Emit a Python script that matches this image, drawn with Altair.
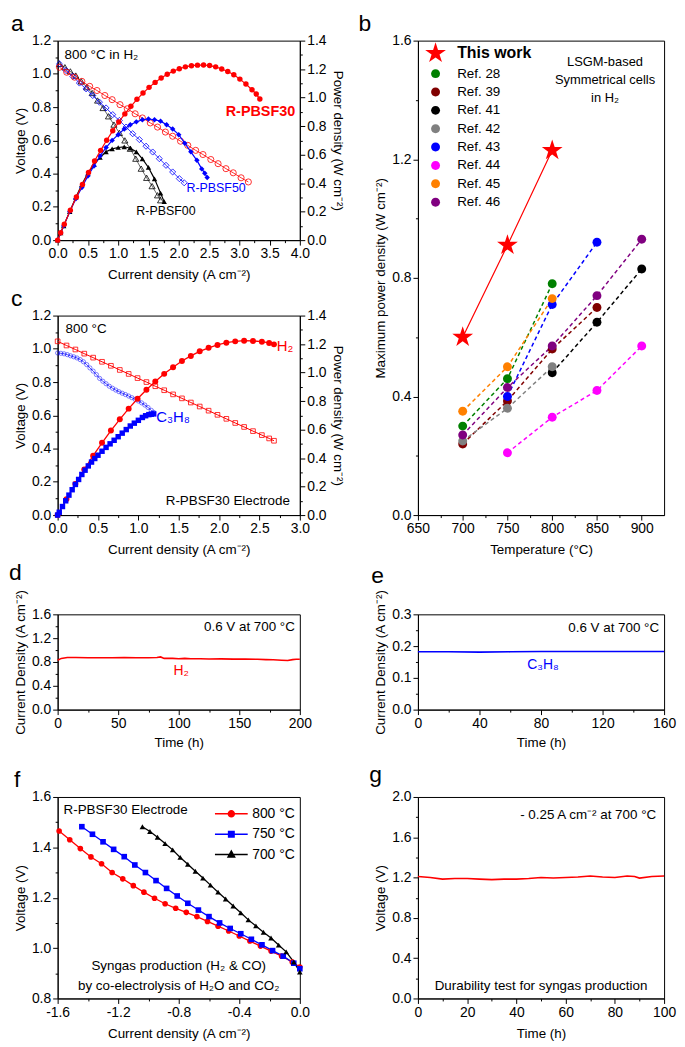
import altair as alt
import pandas as pd

FONT = "Liberation Sans"
RED, BLUE, BLACK = "#ff0000", "#0000ff", "#000000"

# ---------------- panel a : I-V and I-P curves, 800 C in H2 ----------------
a30_v_i = [0.03,0.15,0.28,0.40,0.53,0.65,0.78,0.90,1.03,1.15,1.28,1.40,1.53,1.65,1.78,1.90,2.03,2.15,2.28,2.40,2.53,2.65,2.78,2.90,3.03,3.15]
a30_v = [1.04,1.01,0.98,0.955,0.925,0.90,0.87,0.845,0.815,0.79,0.76,0.735,0.705,0.68,0.65,0.625,0.595,0.57,0.54,0.515,0.485,0.46,0.43,0.405,0.375,0.35]
a30_p_i = [0.0,0.05,0.11,0.21,0.31,0.41,0.51,0.61,0.71,0.81,0.91,1.01,1.11,1.21,1.31,1.41,1.51,1.61,1.71,1.81,1.91,2.01,2.11,2.21,2.31,2.41,2.51,2.61,2.71,2.81,2.91,3.01,3.11,3.21,3.28,3.34]
a30_p = [0.0,0.052,0.112,0.21,0.303,0.391,0.475,0.555,0.63,0.701,0.767,0.829,0.886,0.939,0.988,1.032,1.072,1.107,1.138,1.164,1.186,1.203,1.216,1.224,1.228,1.229,1.225,1.216,1.201,1.183,1.16,1.13,1.095,1.055,1.025,0.99]
a50_v_i = [0.03,0.14,0.25,0.36,0.47,0.58,0.69,0.80,0.91,1.02,1.13,1.24,1.35,1.46,1.57,1.68,1.79,1.90,2.01,2.09]
a50_v = [1.06,1.02,0.985,0.945,0.91,0.87,0.83,0.795,0.755,0.72,0.68,0.64,0.605,0.565,0.53,0.49,0.45,0.41,0.37,0.345]
a50_p_i = [0.0,0.05,0.10,0.20,0.30,0.40,0.50,0.60,0.70,0.80,0.90,1.00,1.10,1.20,1.30,1.40,1.50,1.60,1.70,1.80,1.90,2.00,2.10,2.20,2.30,2.38,2.43,2.47]
a50_p = [0.0,0.05,0.10,0.20,0.29,0.37,0.45,0.52,0.59,0.65,0.70,0.74,0.78,0.81,0.83,0.845,0.85,0.845,0.835,0.81,0.78,0.74,0.68,0.62,0.56,0.50,0.47,0.44]
a00_v_i = [0.03,0.12,0.21,0.30,0.39,0.48,0.57,0.66,0.75,0.84,0.93,1.02,1.11,1.20,1.29,1.38,1.47,1.56,1.65,1.70]
a00_v = [1.06,1.04,1.015,0.99,0.955,0.92,0.885,0.84,0.795,0.745,0.695,0.645,0.60,0.55,0.49,0.43,0.375,0.325,0.27,0.24]
a00_p_i = [0.0,0.05,0.10,0.20,0.30,0.40,0.50,0.60,0.70,0.80,0.90,1.00,1.10,1.20,1.30,1.40,1.50,1.60,1.70,1.76]
a00_p = [0.0,0.05,0.10,0.20,0.30,0.39,0.47,0.53,0.58,0.62,0.64,0.65,0.655,0.645,0.62,0.57,0.51,0.43,0.33,0.27]

# ---------------- panel b : max power density vs temperature ----------------
b_series = ["This work", "Ref. 28", "Ref. 39", "Ref. 41", "Ref. 42", "Ref. 43", "Ref. 44", "Ref. 45", "Ref. 46"]
b_colors = ["#ff0000", "#008000", "#800000", "#000000", "#808080", "#0000ff", "#ff00ff", "#ff8000", "#800080"]
b_temps = [
    [700, 750, 800],
    [700, 750, 800],
    [700, 750, 800, 850],
    [800, 850, 900],
    [700, 750, 800],
    [750, 800, 850],
    [750, 800, 850, 900],
    [700, 750, 800],
    [700, 750, 800, 850, 900],
]
b_pmax = [
    [0.60, 0.91, 1.23],
    [0.30, 0.46, 0.78],
    [0.24, 0.385, 0.56, 0.70],
    [0.48, 0.65, 0.83],
    [0.25, 0.36, 0.50],
    [0.40, 0.71, 0.92],
    [0.21, 0.33, 0.42, 0.57],
    [0.35, 0.50, 0.73],
    [0.27, 0.43, 0.57, 0.74, 0.93],
]

# ---------------- panel c : H2 vs C3H8, 800 C ----------------
c_h2_i = [0.0,0.11,0.22,0.33,0.44,0.55,0.66,0.77,0.88,0.99,1.10,1.21,1.32,1.43,1.54,1.65,1.76,1.87,1.98,2.09,2.20,2.31,2.42,2.53,2.62,2.68]
c_h2_v = [1.045,1.02,0.996,0.971,0.947,0.922,0.898,0.873,0.849,0.824,0.80,0.775,0.751,0.726,0.702,0.677,0.653,0.628,0.603,0.579,0.554,0.53,0.505,0.481,0.461,0.447]
c_h2_p = [0.0,0.112,0.219,0.32,0.417,0.507,0.593,0.672,0.747,0.816,0.88,0.938,0.991,1.038,1.081,1.117,1.149,1.174,1.194,1.21,1.219,1.224,1.222,1.217,1.208,1.198]
c_c3_v_i = [0.0,0.04,0.08,0.12,0.16,0.20,0.24,0.28,0.32,0.36,0.40,0.44,0.48,0.52,0.56,0.60,0.64,0.68,0.72,0.76,0.80,0.84,0.88,0.92,0.96,1.00,1.04,1.08,1.12,1.16,1.19]
c_c3_v = [0.975,0.973,0.97,0.965,0.958,0.952,0.945,0.935,0.922,0.905,0.885,0.866,0.845,0.822,0.805,0.79,0.775,0.763,0.752,0.742,0.733,0.725,0.716,0.706,0.696,0.686,0.675,0.662,0.647,0.63,0.618]
c_c3_p_i = [0.0,0.02,0.06,0.10,0.14,0.18,0.22,0.26,0.30,0.34,0.38,0.42,0.46,0.50,0.55,0.60,0.65,0.70,0.75,0.80,0.85,0.90,0.95,1.00,1.05,1.09,1.13,1.16,1.19]
c_c3_p = [0.0,0.02,0.06,0.10,0.14,0.178,0.215,0.25,0.285,0.315,0.345,0.372,0.397,0.42,0.448,0.475,0.50,0.525,0.55,0.575,0.60,0.625,0.645,0.665,0.685,0.697,0.705,0.708,0.71]

# ---------------- panel d / e : stability at 0.6 V, 700 C ----------------
d_t = [0,3,8,15,25,35,45,55,65,75,82,85,88,95,100,105,110,118,125,135,145,155,165,172,178,185,190,194,197,200]
d_j = [0.83,0.86,0.875,0.875,0.872,0.87,0.872,0.875,0.87,0.87,0.875,0.885,0.86,0.86,0.855,0.86,0.855,0.855,0.85,0.852,0.848,0.85,0.845,0.84,0.838,0.83,0.825,0.84,0.845,0.845]
e_t = [0,20,40,60,80,100,120,140,160]
e_j = [0.182,0.182,0.181,0.182,0.183,0.183,0.183,0.183,0.183]

# ---------------- panel f : co-electrolysis I-V ----------------
f_temps = ["800 °C", "750 °C", "700 °C"]
f_colors = [RED, BLUE, BLACK]
f_shapes = ["circle", "square", "triangle-up"]
f800_i = [-1.59,-1.52,-1.45,-1.38,-1.31,-1.24,-1.17,-1.10,-1.03,-0.96,-0.89,-0.82,-0.75,-0.68,-0.61,-0.54,-0.47,-0.40,-0.33,-0.26,-0.19,-0.12,-0.05,0.0]
f800_v = [1.465,1.43,1.395,1.362,1.335,1.30,1.275,1.248,1.222,1.198,1.176,1.158,1.142,1.125,1.106,1.087,1.068,1.048,1.028,1.008,0.988,0.968,0.945,0.925]
f750_i = [-1.44,-1.37,-1.30,-1.23,-1.16,-1.09,-1.02,-0.95,-0.88,-0.81,-0.74,-0.67,-0.60,-0.53,-0.46,-0.39,-0.32,-0.25,-0.18,-0.11,-0.04,0.0]
f750_v = [1.482,1.452,1.422,1.392,1.363,1.33,1.30,1.268,1.237,1.207,1.178,1.151,1.125,1.10,1.078,1.057,1.035,1.013,0.99,0.968,0.94,0.918]
f700_i = [-1.04,-0.99,-0.94,-0.89,-0.84,-0.79,-0.74,-0.69,-0.64,-0.59,-0.54,-0.49,-0.44,-0.39,-0.34,-0.29,-0.24,-0.19,-0.14,-0.09,-0.04,0.0]
f700_v = [1.482,1.463,1.44,1.415,1.39,1.36,1.333,1.305,1.278,1.25,1.222,1.195,1.167,1.14,1.112,1.088,1.063,1.04,1.012,0.985,0.945,0.905]

# ---------------- panel g : durability for syngas ----------------
g_t = [0,5,10,15,20,25,30,35,40,45,50,55,60,65,70,75,80,85,88,90,95,100]
g_v = [1.21,1.20,1.185,1.19,1.19,1.185,1.18,1.185,1.185,1.19,1.20,1.195,1.20,1.205,1.215,1.205,1.20,1.215,1.21,1.195,1.21,1.215]

# ---------------- layout sizes ----------------
WL, WR = 244, 248
HA = HC = 201
GAP_AC = 76
HB = HA + HC + GAP_AC
HD = 96
HF = 203
GAP_1 = 100
GAP_2 = 88


def rng(start, stop, step):
    n = int(round((stop - start) / step))
    return [round(start + i * step, 6) for i in range(n + 1)]


def make_axis(vals, major, fmt, title, orient, title_pad=4):
    test = f"abs(datum.value / {major} - round(datum.value / {major})) < 0.001"
    return alt.Axis(
        values=vals, format=fmt, title=title, orient=orient,
        labelExpr=f"({test}) ? replace(datum.label, '\u2212', '-') : ''",
        tickSize={"condition": {"test": test, "value": 5}, "value": 2.5},
        labelOverlap=False, labelFlush=False, titlePadding=title_pad,
    )


def qx(dom, ax):
    return alt.X("x:Q", scale=alt.Scale(domain=dom, nice=False, zero=False), axis=ax)


def qy(dom, ax):
    return alt.Y("y:Q", scale=alt.Scale(domain=dom, nice=False, zero=False), axis=ax)


def curve(x, y, color, shape, filled, size, xe, ye, lw=1.0, sw=0.8):
    base = alt.Chart(pd.DataFrame({"x": x, "y": y}))
    return [
        base.mark_line(color=color, strokeWidth=lw).encode(x=xe, y=ye),
        base.mark_point(shape=shape, filled=filled, color=color, size=size,
                        strokeWidth=sw, opacity=1).encode(x=xe, y=ye),
    ]


def line(x, y, color, xe, ye, lw=1.6):
    return alt.Chart(pd.DataFrame({"x": x, "y": y})).mark_line(
        color=color, strokeWidth=lw).encode(x=xe, y=ye)


def label(s, x, y, color=BLACK, size=13.5, align="left", baseline="middle", weight="normal"):
    return alt.Chart(pd.DataFrame({"t": [s]})).mark_text(
        align=align, baseline=baseline, fontSize=size, color=color, font=FONT,
        fontWeight=weight).encode(x=alt.value(x), y=alt.value(y), text="t:N")


def letter(s, dx=-47, dy=-10):
    return label(s, dx, dy, size=23, baseline="alphabetic")


def spacer(w, h):
    return alt.Chart(pd.DataFrame({"z": [0]})).mark_point(opacity=0).encode(
        x=alt.value(0), y=alt.value(0)).properties(
        width=w, height=h, view=alt.ViewBackground(stroke="transparent"))


CUR = "Current density (A cm\u207b\u00b2)"
PWR = "Power density (W cm\u207b\u00b2)"

# ---------------- panel a ----------------
xa = qx([0, 4], make_axis(rng(0, 4, 0.25), 0.5, ".1f", CUR, "bottom", 7))
yaL = qy([0, 1.2], make_axis(rng(0, 1.2, 0.1), 0.2, ".1f", "Voltage (V)", "left"))
yaR = qy([0, 1.4], make_axis(rng(0, 1.4, 0.1), 0.2, ".1f", PWR, "right"))
a_left = alt.layer(
    *curve(a00_v_i, a00_v, BLACK, "triangle-up", False, 38, xa, yaL, 0.6),
    *curve(a50_v_i, a50_v, BLUE, "diamond", False, 38, xa, yaL, 0.8),
    *curve(a30_v_i, a30_v, RED, "circle", False, 38, xa, yaL, 0.8),
    label("800 °C in H\u2082", 7, 15),
    label("R-PBSF30", 0.694 * WL, 0.358 * HA, RED, 14.5, weight="bold"),
    label("R-PBSF50", 0.532 * WL, 0.74 * HA, BLUE, 12.5),
    label("R-PBSF00", 0.325 * WL, 0.853 * HA, BLACK, 12.5),
    letter("a"),
)
a_right = alt.layer(
    *curve(a00_p_i, a00_p, BLACK, "triangle-up", True, 30, xa, yaR, 1.2),
    *curve(a50_p_i, a50_p, BLUE, "diamond", True, 30, xa, yaR, 1.2),
    *curve(a30_p_i, a30_p, RED, "circle", True, 30, xa, yaR, 1.2),
)
A = alt.layer(a_left, a_right).resolve_scale(y="independent").properties(width=WL, height=HA)

# ---------------- panel c ----------------
xc = qx([0, 3], make_axis(rng(0, 3, 0.25), 0.5, ".1f", CUR, "bottom", 7))
ycL = qy([0, 1.2], make_axis(rng(0, 1.2, 0.1), 0.2, ".1f", "Voltage (V)", "left"))
ycR = qy([0, 1.4], make_axis(rng(0, 1.4, 0.1), 0.2, ".1f", PWR, "right"))
c_left = alt.layer(
    *curve(c_h2_i, c_h2_v, RED, "square", False, 22, xc, ycL, 1.0),
    *curve(c_c3_v_i, c_c3_v, BLUE, "circle", False, 18, xc, ycL, 0.7, 0.5),
    label("800 °C", 8, 14),
    label("R-PBSF30 Electrode", WL - 10, HC - 14, align="right"),
    label("H\u2082", 0.905 * WL, 0.153 * HC, RED, 15),
    label("C\u2083H\u2088", 0.407 * WL, 0.507 * HC, BLUE, 15),
    letter("c"),
)
c_right = alt.layer(
    *curve(c_h2_i, c_h2_p, RED, "circle", True, 36, xc, ycR, 1.3),
    *curve(c_c3_p_i, c_c3_p, BLUE, "square", True, 30, xc, ycR, 1.3),
)
C = alt.layer(c_left, c_right).resolve_scale(y="independent").properties(width=WL, height=HC)

# ---------------- panel b ----------------
rows = []
for s, ts, ps in zip(b_series, b_temps, b_pmax):
    for t, p in zip(ts, ps):
        rows.append({"s": s, "x": t, "y": p})
bdf = pd.DataFrame(rows)
STAR = "M0,-2.2L0.495,-0.68L2.092,-0.68L0.799,0.26L1.294,1.78L0,0.84L-1.294,1.78L-0.799,0.26L-2.092,-0.68L-0.495,-0.68Z"
CIRC = "M0.9,0A0.9,0.9,0,1,1,-0.9,0A0.9,0.9,0,1,1,0.9,0Z"
b_shapes = [STAR] + [CIRC] * (len(b_series) - 1)
xb = qx([650, 925], make_axis(rng(650, 900, 25), 50, "d", "Temperature (°C)", "bottom", 7))
yb = qy([0, 1.6], make_axis(rng(0, 1.6, 0.2), 0.4, ".1f", "Maximum power density (W cm\u207b\u00b2)", "left"))
b_legend = alt.Legend(
    orient="none", legendX=11, legendY=6, title=None, padding=0,
    labelFont=FONT, labelColor=BLACK, symbolSize=100,
    labelOffset=15, rowPadding=3.5, symbolStrokeWidth=0,
    labelFontSize=alt.ExprRef(expr="datum.value === 'This work' ? 16 : 13.5"),
    labelFontWeight=alt.ExprRef(expr="datum.value === 'This work' ? 'bold' : 'normal'"),
)
bcol = alt.Scale(domain=b_series, range=b_colors)
b_lines = []
for s, c in zip(b_series, b_colors):
    mk = dict(color=c, strokeWidth=1.2) if s == "This work" else dict(color=c, strokeWidth=1.5, strokeDash=[4, 3])
    b_lines.append(alt.Chart(bdf).transform_filter(f"datum.s === '{s}'").mark_line(**mk).encode(x=xb, y=yb))
B = alt.layer(
    *b_lines,
    alt.Chart(bdf).mark_point(filled=True, size=100, opacity=1).encode(
        x=xb, y=yb,
        color=alt.Color("s:N", scale=bcol, legend=b_legend),
        shape=alt.Shape("s:N", scale=alt.Scale(domain=b_series, range=b_shapes), legend=b_legend)),
    label("LSGM-based", 0.76 * WR, 21.5, align="center", size=13),
    label("Symmetrical cells", 0.76 * WR, 39.5, align="center", size=13),
    label("in H\u2082", 0.76 * WR, 57.5, align="center", size=13),
    letter("b", -60, -10),
).properties(width=WR, height=HB)

# ---------------- panel d ----------------
xd = qx([0, 200], make_axis(rng(0, 200, 25), 50, "d", "Time (h)", "bottom", 5))
yd = qy([0, 1.6], make_axis(rng(0, 1.6, 0.2), 0.4, ".1f", "Current Density (A cm\u207b\u00b2)", "left"))
D = alt.layer(
    line(d_t, d_j, RED, xd, yd),
    label("0.6 V at 700 °C", WL - 5, 13, align="right"),
    label("H\u2082", 0.51 * WL, 0.59 * HD, RED, 14, align="center"),
    letter("d", -49, -35),
).properties(width=WL, height=HD)

# ---------------- panel e ----------------
xe = qx([0, 160], make_axis(rng(0, 160, 20), 40, "d", "Time (h)", "bottom", 5))
ye = qy([0, 0.3], make_axis(rng(0, 0.3, 0.05), 0.1, ".1f", "Current Density (A cm\u207b\u00b2)", "left"))
E = alt.layer(
    line(e_t, e_j, BLUE, xe, ye),
    label("0.6 V at 700 °C", WR - 5, 14, align="right"),
    label("C\u2083H\u2088", 0.508 * WR, 0.53 * HD, BLUE, 14, align="center"),
    letter("e", -47, -32),
).properties(width=WR, height=HD)

# ---------------- panel f ----------------
fdf = pd.concat([
    pd.DataFrame({"T": f_temps[0], "x": f800_i, "y": f800_v}),
    pd.DataFrame({"T": f_temps[1], "x": f750_i, "y": f750_v}),
    pd.DataFrame({"T": f_temps[2], "x": f700_i, "y": f700_v}),
])
xf = qx([-1.6, 0.0], make_axis(rng(-1.6, 0.0, 0.2), 0.4, ".1f", "Current density (A cm\u207b\u00b2)", "bottom", 7))
yf = qy([0.8, 1.6], make_axis(rng(0.8, 1.6, 0.1), 0.2, ".1f", "Voltage (V)", "left"))
P_C = "M-3,0L3,0M0.55,0A0.55,0.55,0,1,1,-0.55,0A0.55,0.55,0,1,1,0.55,0Z"
P_S = "M-3,0L3,0M-0.5,-0.5L0.5,-0.5L0.5,0.5L-0.5,0.5Z"
P_T = "M-3,0L3,0M0,-0.65L0.6,0.45L-0.6,0.45Z"
f_legend = alt.Legend(
    orient="none", legendX=WL - 76, legendY=10, title=None, padding=0,
    labelFontSize=14, labelFont=FONT, labelColor=BLACK, symbolSize=121,
    labelOffset=14, rowPadding=6.5, symbolStrokeWidth=1.5,
    symbolType=alt.ExprRef(expr=f"datum.value === '800 °C' ? '{P_C}' : datum.value === '750 °C' ? '{P_S}' : '{P_T}'"),
    symbolFillColor=alt.ExprRef(expr=f"datum.value === '800 °C' ? '{RED}' : datum.value === '750 °C' ? '{BLUE}' : '{BLACK}'"),
)
fcol = alt.Scale(domain=f_temps, range=f_colors)
f_points = []
for t, c, sh in zip(f_temps, f_colors, f_shapes):
    f_points.append(alt.Chart(fdf).transform_filter(f"datum.T === '{t}'").mark_point(
        filled=True, size=32, opacity=1, color=c, shape=sh).encode(x=xf, y=yf))
F = alt.layer(
    alt.Chart(fdf).mark_line(strokeWidth=1.3).encode(
        x=xf, y=yf, color=alt.Color("T:N", scale=fcol, legend=f_legend), detail="T:N"),
    *f_points,
    label("R-PBSF30 Electrode", 6, 13),
    label("Syngas production (H\u2082 & CO)", WL / 2, 0.837 * HF, align="center"),
    label("by co-electrolysis of H\u2082O and CO\u2082", WL / 2, 0.94 * HF, align="center"),
    letter("f", -44, -10),
).properties(width=WL, height=HF)

# ---------------- panel g ----------------
xg = qx([0, 100], make_axis(rng(0, 100, 10), 20, "d", "Time (h)", "bottom", 7))
yg = qy([0, 2.0], make_axis(rng(0, 2.0, 0.2), 0.4, ".1f", "Voltage (V)", "left"))
G = alt.layer(
    line(g_t, g_v, RED, xg, yg),
    label("- 0.25 A cm\u207b\u00b2 at 700 °C", WR - 8, 18, align="right"),
    label("Durability test for syngas production", WR / 2, 0.94 * HF, align="center"),
    letter("g", -49, -15),
).properties(width=WR, height=HF)

left_col = alt.vconcat(A, spacer(WL, GAP_AC), C, spacer(WL, GAP_1), D, spacer(WL, GAP_2), F,
                       spacing=0, bounds="flush").resolve_scale(color="independent", shape="independent")
right_col = alt.vconcat(B, spacer(WR, GAP_1), E, spacer(WR, GAP_2), G,
                        spacing=0, bounds="flush").resolve_scale(color="independent", shape="independent")
chart = alt.hconcat(left_col, right_col, spacing=13).resolve_scale(
    color="independent", shape="independent"
).properties(padding=0, background="white").configure(font=FONT).configure_view(
    stroke=BLACK, strokeWidth=1
).configure_axis(
    labelFont=FONT, labelFontSize=14, labelColor=BLACK, titleFont=FONT, titleFontSize=13.5,
    titleFontWeight="normal", titleColor=BLACK, domainColor=BLACK, tickColor=BLACK,
    domainWidth=1, tickWidth=1, grid=False, labelPadding=2,
).configure_legend(labelFont=FONT)

chart.save("out.html", embed_options={"renderer": "svg", "actions": False})
